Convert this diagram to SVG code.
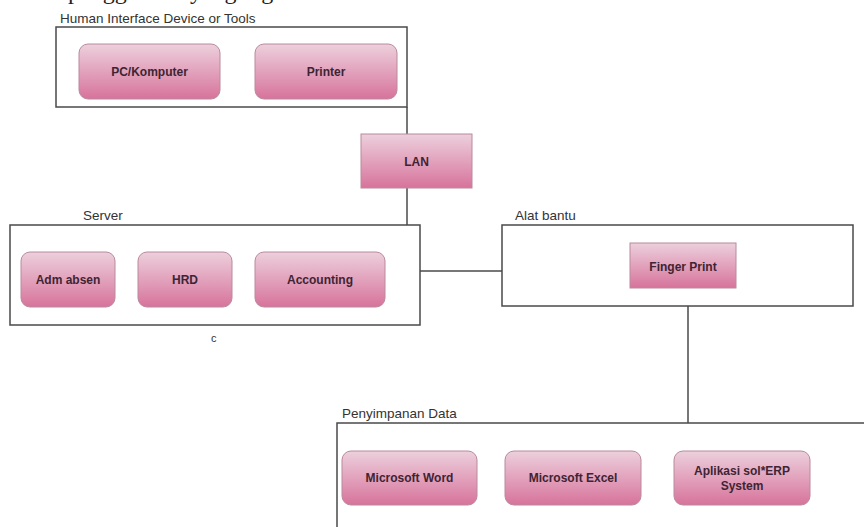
<svg xmlns="http://www.w3.org/2000/svg" width="864" height="527" viewBox="0 0 864 527">
<defs>
<linearGradient id="pink" x1="0" y1="0" x2="0" y2="1">
<stop offset="0" stop-color="#ecd0dc"/>
<stop offset="0.5" stop-color="#e2a2bc"/>
<stop offset="1" stop-color="#d7739b"/>
</linearGradient>
<style>
.node{fill:url(#pink);stroke:#b98a9c;stroke-width:1}
.frame{fill:#ffffff;stroke:#4a4a4a;stroke-width:1.5}
.lbl{font-family:"Liberation Sans",Arial,sans-serif;font-size:12px;font-weight:bold;fill:#3e2434;text-anchor:middle}
.cap{font-family:"Liberation Sans",Arial,sans-serif;font-size:13.5px;fill:#333333}
.conn{stroke:#4a4a4a;stroke-width:1.5;fill:none}
</style>
</defs>
<rect width="864" height="527" fill="#ffffff"/>
<text x="68" y="-1" font-family="'Liberation Serif','Times New Roman',serif" font-size="24" fill="#222">penggunaan yang digunakan</text>

<g id="connectors">
<line class="conn" x1="407" y1="107" x2="407" y2="134"/>
<line class="conn" x1="407" y1="188" x2="407" y2="225"/>
<line class="conn" x1="420" y1="271" x2="502" y2="271"/>
<line class="conn" x1="688" y1="306" x2="688" y2="423"/>
</g>

<g id="hid">
<text class="cap" x="60" y="23">Human Interface Device or Tools</text>
<rect class="frame" x="56" y="27" width="351" height="80"/>
</g>
<g id="pc"><rect class="node" x="79" y="44" width="141" height="55" rx="9"/><text class="lbl" x="149.5" y="76">PC/Komputer</text></g>
<g id="printer"><rect class="node" x="255" y="44" width="142" height="55" rx="9"/><text class="lbl" x="326" y="76">Printer</text></g>

<g id="lan"><rect class="node" x="361" y="134" width="111" height="54"/><text class="lbl" x="416.5" y="166">LAN</text></g>

<g id="server">
<text class="cap" x="83" y="220">Server</text>
<rect class="frame" x="10" y="225" width="410" height="100"/>
<text class="cap" x="211" y="342" style="font-size:11px">c</text>
</g>
<g id="adm"><rect class="node" x="21" y="252" width="94" height="55" rx="9"/><text class="lbl" x="68" y="284">Adm absen</text></g>
<g id="hrd"><rect class="node" x="138" y="252" width="94" height="55" rx="9"/><text class="lbl" x="185" y="284">HRD</text></g>
<g id="accounting"><rect class="node" x="255" y="252" width="130" height="55" rx="9"/><text class="lbl" x="320" y="284">Accounting</text></g>

<g id="alat">
<text class="cap" x="515" y="220">Alat bantu</text>
<rect class="frame" x="502" y="225" width="351" height="81"/>
</g>
<g id="finger"><rect class="node" x="630" y="243" width="106" height="45"/><text class="lbl" x="683" y="271">Finger Print</text></g>

<g id="penyimpanan">
<text class="cap" x="342" y="418">Penyimpanan Data</text>
<rect class="frame" x="337" y="423" width="540" height="120"/>
</g>
<g id="word"><rect class="node" x="342" y="451" width="135" height="54" rx="9"/><text class="lbl" x="409.5" y="482">Microsoft Word</text></g>
<g id="excel"><rect class="node" x="505" y="451" width="136" height="54" rx="9"/><text class="lbl" x="573" y="482">Microsoft Excel</text></g>
<g id="erp"><rect class="node" x="674" y="451" width="136" height="54" rx="9"/><text class="lbl" x="742" y="475">Aplikasi sol*ERP</text><text class="lbl" x="742" y="490">System</text></g>
</svg>
